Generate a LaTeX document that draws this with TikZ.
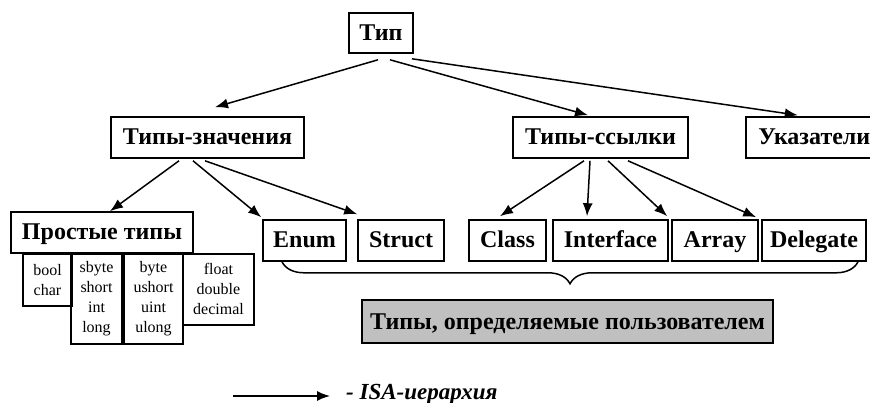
\documentclass[tikz,border=0pt]{standalone}
\usepackage{fontspec}
\setmainfont{Liberation Serif}
\usetikzlibrary{arrows.meta,decorations.pathreplacing}

\begin{document}
\begin{tikzpicture}[x=1pt, y=-1pt]
\tikzset{box/.style={draw, line width=1.6pt, inner sep=0pt, minimum height=41pt,
  text height=16pt, text depth=1pt, font=\bfseries\fontsize{24}{28}\selectfont}}
\tikzset{kind/.style={draw, line width=1.6pt, inner sep=0pt, anchor=north, align=center,
  font=\fontsize{16}{20}\selectfont}}
\tikzset{isa/.style={-{Latex[length=13pt,width=10pt]}, line width=1.5pt}}
\useasboundingbox (0,0) rectangle (870,403);
\clip (0,0) rectangle (870,403);
%\draw[help lines] (0,0) grid[step=50] (870,403);
\node[box, minimum width=64pt, minimum height=40pt] (tip) at (381,33) {Тип};
\node[box, minimum width=193pt] (zn) at (207.5,137.5) {Типы-значения};
\node[box, minimum width=175pt] (zs) at (600.5,137.5) {Типы-ссылки};
\node[box, minimum width=137pt, anchor=west] (ptr) at (745,137.5) {Указатели};
\node[box, minimum width=182pt] (prost) at (102,232.5) {Простые типы};
\node[box, minimum width=83pt] (enm) at (304.5,240.5) {Enum};
\node[box, minimum width=86pt] (strct) at (401,240.5) {Struct};
\node[box, minimum width=77pt] (cls) at (507.5,240.5) {Class};
\node[box, minimum width=115pt] (intf) at (610.5,240.5) {Interface};
\node[box, minimum width=86pt] (arr) at (715,240.5) {Array};
\node[box, minimum width=104pt] (dlg) at (814,240.5) {Delegate};
\node[kind, minimum width=49pt, minimum height=52pt] (bl) at (47.5,253) {bool\\char};
\node[kind, minimum width=51pt, minimum height=90pt] (sb) at (96.5,253) {sbyte\\short\\int\\long};
\node[kind, minimum width=59pt, minimum height=90pt] (ub) at (153.5,253) {byte\\ushort\\uint\\ulong};
\node[kind, minimum width=71pt, minimum height=71pt] (fl) at (218.5,253) {float\\double\\decimal};
\node[box, fill={rgb,255:red,192;green,192;blue,192}, minimum width=411pt, minimum height=43pt]
  (user) at (567.5,321.5) {Типы, определяемые пользователем};
% ISA
\draw[isa] ([xshift=-3pt,yshift=-6pt]tip.south) -- ([xshift=7.5pt,yshift=9pt]zn.north);
\draw[isa] ([xshift=9pt,yshift=-6pt]tip.south) -- ([xshift=-12.5pt,yshift=1pt]zs.north);
\draw[isa] ([xshift=31pt,yshift=-5pt]tip.south) -- ([xshift=-16.5pt,yshift=1pt]ptr.north);
\draw[isa] ([xshift=-28.5pt,yshift=-2pt]zn.south) -- ([xshift=8pt]prost.north);
\draw[isa] ([xshift=-14.5pt,yshift=-2pt]zn.south) -- ([xshift=-1pt,yshift=2pt]enm.north west);
\draw[isa] ([xshift=-2.5pt,yshift=-2pt]zn.south) -- ([yshift=5pt]strct.north west);
\draw[isa] ([xshift=-16.5pt,yshift=-2pt]zs.south) -- ([xshift=-7.5pt,yshift=3pt]cls.north);
\draw[isa] ([xshift=-10.5pt,yshift=-2pt]zs.south) -- ([xshift=-23.5pt,yshift=3pt]intf.north);
\draw[isa] ([xshift=7.5pt,yshift=-2pt]zs.south) -- ([xshift=-4pt,yshift=3pt]arr.north west);
\draw[isa] ([xshift=27.5pt,yshift=-2pt]zs.south) -- ([xshift=-5pt,yshift=2pt]dlg.north west);
% brace
\draw[line width=1.5pt, decorate, decoration={brace, mirror, amplitude=22pt}]
  ([xshift=-22.5pt]enm.south) -- ([xshift=44pt]dlg.south);
% legend
\coordinate (lgfrom) at (233,396);
\coordinate (lgto) at (330,396);
\draw[isa] (lgfrom) -- (lgto);
\node[anchor=base west, inner sep=0pt, font=\bfseries\itshape\fontsize{23}{28}\selectfont]
  (lgtext) at (346,399) {- ISA-иерархия};
\end{tikzpicture}
\end{document}
